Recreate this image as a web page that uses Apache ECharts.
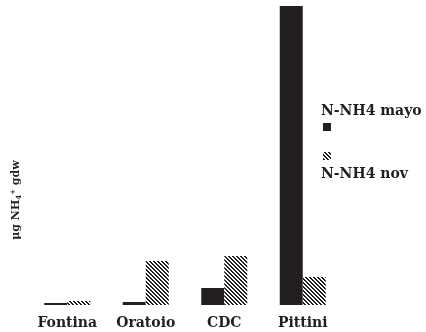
<!DOCTYPE html>
<html>
<head>
<meta charset="utf-8">
<script src="https://cdn.jsdelivr.net/npm/echarts@6/dist/echarts.min.js"></script>
<style>
  html, body { margin: 0; padding: 0; background: #fff; }
  #chart { width: 426px; height: 332px; }
</style>
</head>
<body>
<div id="chart"></div>
<script>
const categories = ['Fontina', 'Oratoio', 'CDC', 'Pittini']
const mayoValues = [2, 3, 17, 299]
const novValues = [4, 44, 49, 28]

// diagonal hatch tile for the "nov" series
function hatch(size) {
  const c = document.createElement('canvas')
  c.width = size
  c.height = size
  const ctx = c.getContext('2d')
  ctx.fillStyle = '#fff'
  ctx.fillRect(0, 0, size, size)
  ctx.fillStyle = '#231f20'
  for (let y = 0; y < size; y++) {
    for (let x = 0; x < size; x++) {
      const d = ((x - y) % 4 + 4) % 4
      if (d < 2) ctx.fillRect(x, y, 1, 1)
    }
  }
  return c
}
const hatchFill = { image: hatch(8), repeat: 'repeat' }
const font = 'DejaVu Serif'
const ink = '#231f20'

const chart = echarts.init(document.getElementById('chart'))
chart.setOption({
  animation: false,
  grid: { left: 28, top: 6, width: 314, bottom: 27 },
  xAxis: {
    type: 'category',
    data: categories,
    axisLine: { show: false },
    axisTick: { show: false },
    axisLabel: {
      color: ink, fontFamily: font, fontWeight: 'bold', fontSize: 14, margin: 11
    }
  },
  yAxis: {
    type: 'value',
    min: 0,
    max: 299,
    axisLine: { show: false },
    axisTick: { show: false },
    axisLabel: { show: false },
    splitLine: { show: false }
  },
  series: [
    {
      name: 'N-NH4 mayo',
      type: 'bar',
      data: mayoValues,
      barWidth: 23,
      barGap: '0%',
      itemStyle: { color: ink }
    },
    {
      name: 'N-NH4 nov',
      type: 'bar',
      data: novValues,
      barWidth: 23,
      barGap: '0%',
      itemStyle: { color: hatchFill }
    }
  ],
  graphic: [
    {
      // y axis title, rotated
      type: 'text', x: 16, y: 200, rotation: Math.PI / 2,
      style: {
        text: '{a|μg NH}{sub|4}{sup|+}{a| gdw}',
        align: 'center', verticalAlign: 'middle',
        rich: {
          a: { fontFamily: font, fontWeight: 'bold', fontSize: 11, fill: ink },
          sub: { fontFamily: font, fontWeight: 'bold', fontSize: 7, fill: ink, padding: [6, 0, 0, 0] },
          sup: { fontFamily: font, fontWeight: 'bold', fontSize: 7, fill: ink, padding: [0, 0, 6, 0] }
        }
      }
    },
    {
      type: 'text', left: 321, top: 104,
      style: { text: 'N-NH4 mayo', font: 'bold 14px "DejaVu Serif"', fill: ink }
    },
    {
      type: 'rect', shape: { x: 323, y: 123, width: 8, height: 8 },
      style: { fill: ink }
    },
    {
      type: 'rect', shape: { x: 323, y: 152, width: 8, height: 8 },
      style: { fill: hatchFill }
    },
    {
      type: 'text', left: 321, top: 167,
      style: { text: 'N-NH4 nov', font: 'bold 14px "DejaVu Serif"', fill: ink }
    }
  ]
})
</script>
</body>
</html>
